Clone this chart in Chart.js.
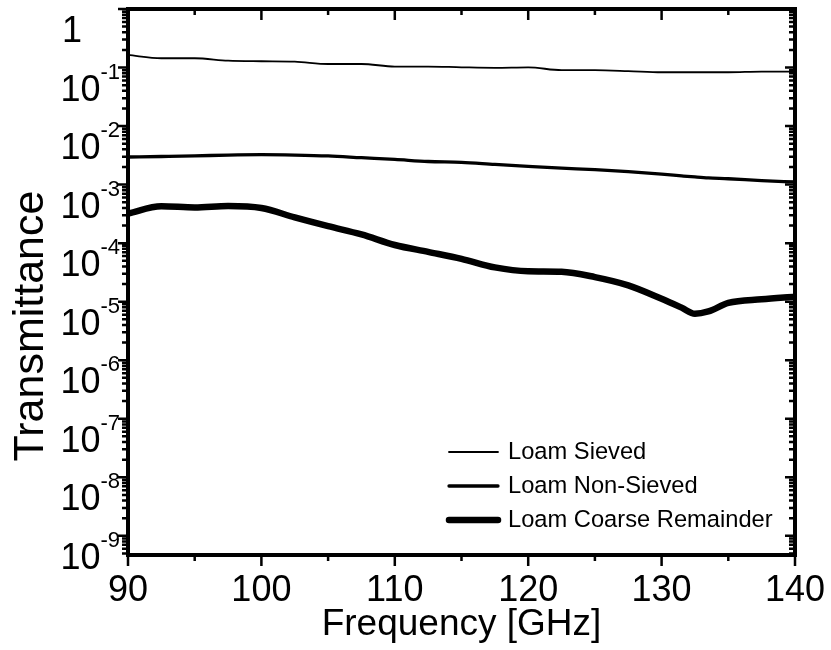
<!DOCTYPE html>
<html>
<head>
<meta charset="utf-8">
<script src="https://cdn.jsdelivr.net/npm/chart.js@4.4.1/dist/chart.umd.min.js"></script>
<style>
  html, body { margin: 0; padding: 0; background: #fff; }
  #wrap { width: 831px; height: 650px; position: relative; }
</style>
</head>
<body>
<div id="wrap"><canvas id="transChart"></canvas></div>
<script>
// values (GHz / transmittance)
const freq = [90, 92.5, 95, 97.5, 100, 102.5, 105, 107.5, 110, 112.5, 115, 117.5, 120,
              122.5, 125, 127.5, 130, 131.5, 132.5, 133.5, 135, 137.5, 140];
const loamSieved = [0.164, 0.144, 0.144, 0.131, 0.128, 0.126, 0.115, 0.115, 0.104, 0.104, 0.101, 0.099,
                    0.101, 0.090, 0.090, 0.087, 0.083, 0.083, 0.083, 0.083, 0.083, 0.085, 0.085];
const loamNonSieved = [0.00296, 0.00302, 0.00309, 0.0032, 0.00325, 0.0032, 0.00309, 0.00288, 0.00269,
                       0.00248, 0.0024, 0.00221, 0.00205, 0.00191, 0.0018, 0.00166, 0.00151, 0.00141,
                       0.00135, 0.0013, 0.00126, 0.00117, 0.00111];
const loamCoarse = [3.2e-4, 4.27e-4, 4.07e-4, 4.3e-4, 3.98e-4, 2.75e-4, 1.95e-4, 1.41e-4, 9.3e-5, 7.1e-5,
                    5.4e-5, 3.85e-5, 3.3e-5, 3.24e-5, 2.63e-5, 1.9e-5, 1.12e-5, 7.9e-6, 6.2e-6, 6.8e-6,
                    9.5e-6, 1.1e-5, 1.22e-5];
const seriesNames = ['Loam Sieved', 'Loam Non-Sieved', 'Loam Coarse Remainder'];
const seriesWidths = [1.8, 3.3, 6.5];
const xTickLabels = [90, 100, 110, 120, 130, 140];
const yDecades = [-9, -8, -7, -6, -5, -4, -3, -2, -1, 0];
const xTitle = 'Frequency [GHz]';
const yTitle = 'Transmittance';

const FONT = "'Liberation Sans', Arial, sans-serif";

// frame, mirrored ticks, y labels with exponents, y title and legend
const framePlugin = {
  id: 'frame',
  afterDatasetsDraw(chart) {
    const { ctx, chartArea: a, scales: { x, y } } = chart;
    ctx.save();
    ctx.strokeStyle = '#000';
    ctx.fillStyle = '#000';

    // ticks
    ctx.lineWidth = 2.5;
    ctx.beginPath();
    const nMin = Math.floor(Math.log10(y.min));
    for (let n = nMin; n <= 0; n++) {
      for (let k = 1; k <= 9; k++) {
        const v = k * Math.pow(10, n);
        if (v < y.min || v > y.max * 1.0001) continue;
        const py = y.getPixelForValue(v);
        const len = k === 1 ? 10 : 6;
        ctx.moveTo(a.left - len, py); ctx.lineTo(a.left, py);
        ctx.moveTo(a.right - len, py); ctx.lineTo(a.right, py);
      }
    }
    for (let v = x.min; v <= x.max; v += 5) {
      const px = x.getPixelForValue(v);
      const len = v % 10 === 0 ? 11 : 6;
      ctx.moveTo(px, a.bottom); ctx.lineTo(px, a.bottom + len);
      ctx.moveTo(px, a.top); ctx.lineTo(px, a.top + len);
    }
    ctx.stroke();

    // frame
    ctx.lineWidth = 4;
    ctx.strokeRect(a.left, a.top, a.right - a.left, a.bottom - a.top);

    // y tick labels
    ctx.textBaseline = 'alphabetic';
    yDecades.forEach(n => {
      const py = y.getPixelForValue(Math.pow(10, n));
      if (n === 0) {
        ctx.font = `36px ${FONT}`;
        ctx.textAlign = 'center';
        ctx.fillText('1', 72, py + 33);
        return;
      }
      const sup = String(n);
      ctx.textAlign = 'right';
      ctx.font = `22px ${FONT}`;
      ctx.fillText(sup, a.left - 8, py + 11);
      const w = ctx.measureText(sup).width;
      ctx.font = `36px ${FONT}`;
      ctx.fillText('10', a.left - 8 - w, py + 33);
    });

    // y title
    ctx.save();
    ctx.translate(43, 326);
    ctx.rotate(-Math.PI / 2);
    ctx.textAlign = 'center';
    ctx.font = `43px ${FONT}`;
    ctx.fillText(yTitle, 0, 0);
    ctx.restore();

    // legend
    ctx.lineCap = 'round';
    ctx.textAlign = 'left';
    ctx.textBaseline = 'middle';
    ctx.font = `23.7px ${FONT}`;
    chart.data.datasets.forEach((ds, i) => {
      const ly = 452 + i * 34;
      ctx.lineWidth = ds.borderWidth;
      ctx.beginPath();
      ctx.moveTo(449, ly); ctx.lineTo(498, ly);
      ctx.stroke();
      ctx.fillText(ds.label, 508, ly);
    });
    ctx.restore();
  }
};

const seriesValues = [loamSieved, loamNonSieved, loamCoarse];

const ctx = document.getElementById('transChart').getContext('2d');
const transChart = new Chart(ctx, {
  type: 'line',
  data: {
    datasets: seriesNames.map((name, i) => ({
      label: name,
      data: freq.map((f, j) => ({ x: f, y: seriesValues[i][j] })),
      borderColor: '#000',
      backgroundColor: 'transparent',
      borderWidth: seriesWidths[i],
      pointRadius: 0,
      cubicInterpolationMode: 'monotone',
      borderJoinStyle: 'round',
      borderCapStyle: 'round'
    }))
  },
  options: {
    responsive: true,
    maintainAspectRatio: false,
    animation: false,
    layout: { padding: { top: 9, right: 36, left: 0, bottom: 0 } },
    scales: {
      x: {
        type: 'linear',
        min: 90,
        max: 140,
        afterBuildTicks: s => { s.ticks = xTickLabels.map(v => ({ value: v })); },
        ticks: { color: '#000', font: { family: FONT, size: 36 }, padding: 14, maxRotation: 0, autoSkip: false },
        grid: { display: false, drawTicks: false },
        border: { display: false },
        title: { display: true, text: xTitle, color: '#000', font: { family: FONT, size: 37 }, padding: { top: 0, bottom: 3 } },
        afterFit: s => { s.height = 95; s.paddingLeft = 0; s.paddingRight = 0; }
      },
      y: {
        type: 'logarithmic',
        min: 4.7e-10,
        max: 1,
        ticks: { display: false },
        grid: { display: false, drawTicks: false },
        border: { display: false },
        afterFit: s => { s.width = 128; s.paddingTop = 0; s.paddingBottom = 0; }
      }
    },
    plugins: {
      legend: { display: false },
      tooltip: { enabled: false }
    }
  },
  plugins: [framePlugin]
});
</script>
</body>
</html>
